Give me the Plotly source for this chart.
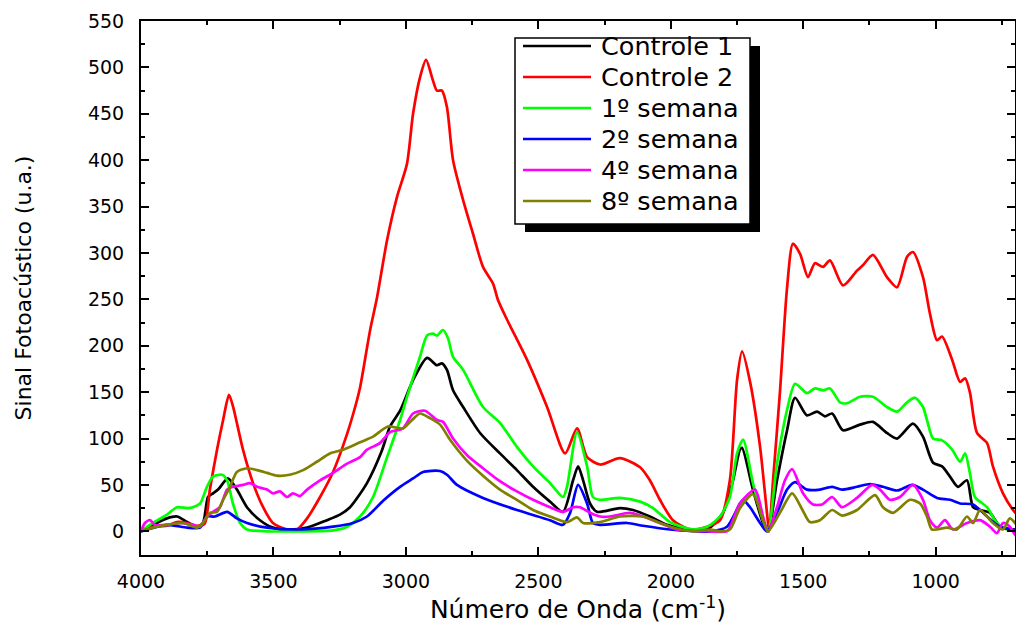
import plotly.graph_objects as go

# ---- data (wavenumber cm-1, signal u.a.) ----
c1_x = [4000, 3955, 3902, 3864, 3826, 3789, 3766, 3747, 3728, 3709, 3672, 3638, 3600, 3551, 3502, 3449, 3373, 3298, 3249, 3211, 3147, 3092, 3060, 3022, 2973, 2920, 2883, 2864, 2845, 2822, 2784, 2720, 2645, 2581, 2520, 2456, 2407, 2369, 2350, 2331, 2305, 2279, 2192, 2143, 2079, 2014, 1939, 1863, 1803, 1765, 1739, 1731, 1690, 1652, 1633, 1599, 1561, 1531, 1486, 1448, 1418, 1391, 1350, 1286, 1237, 1184, 1146, 1086, 1048, 1010, 976, 946, 916, 882, 859, 833, 795, 757, 708, 665]
c1_y = [0, 7, 14, 16, 10, 5, 9, 37, 41, 45, 57, 45, 26, 12, 4, 2, 4, 12, 18, 26, 52, 86, 113, 130, 163, 187, 179, 181, 174, 152, 134, 106, 84, 66, 48, 32, 21, 55, 70, 55, 30, 21, 25, 23, 16, 7, 2, 2, 20, 55, 88, 90, 45, 9, 0, 55, 109, 144, 125, 129, 124, 127, 109, 115, 118, 106, 100, 116, 102, 74, 70, 59, 48, 55, 26, 23, 20, 5, 2, 2]

c2_x = [4000, 3955, 3902, 3864, 3826, 3789, 3760, 3740, 3713, 3690, 3668, 3653, 3615, 3577, 3539, 3502, 3449, 3411, 3373, 3324, 3275, 3222, 3185, 3173, 3135, 3109, 3071, 3034, 2996, 2973, 2947, 2924, 2898, 2883, 2864, 2845, 2822, 2784, 2747, 2709, 2671, 2652, 2618, 2543, 2467, 2399, 2354, 2316, 2267, 2192, 2116, 2079, 2041, 1992, 1927, 1863, 1814, 1777, 1750, 1731, 1700, 1663, 1637, 1629, 1614, 1588, 1561, 1539, 1512, 1482, 1456, 1425, 1399, 1350, 1297, 1274, 1237, 1184, 1146, 1108, 1086, 1048, 1022, 995, 976, 938, 908, 889, 871, 844, 806, 784, 746, 708, 682, 665]
c2_y = [0, 5, 6, 10, 9, 6, 8, 45, 88, 120, 147, 135, 88, 52, 26, 9, 2, 2, 14, 37, 64, 105, 141, 155, 217, 252, 314, 360, 396, 450, 489, 508, 486, 475, 475, 457, 400, 357, 321, 285, 267, 249, 228, 185, 134, 84, 111, 80, 72, 79, 69, 55, 34, 12, 2, 5, 12, 55, 163, 194, 160, 91, 20, 0, 55, 150, 263, 310, 299, 274, 289, 285, 292, 265, 281, 287, 298, 274, 263, 296, 301, 274, 235, 206, 210, 185, 161, 165, 150, 106, 95, 70, 41, 23, 15, 11]

s1_x = [4000, 3955, 3902, 3864, 3826, 3804, 3777, 3751, 3728, 3694, 3675, 3653, 3626, 3600, 3524, 3400, 3275, 3222, 3173, 3124, 3071, 3022, 2996, 2947, 2920, 2898, 2883, 2860, 2841, 2822, 2784, 2709, 2645, 2581, 2520, 2456, 2407, 2392, 2354, 2316, 2294, 2267, 2192, 2116, 2067, 2003, 1916, 1863, 1814, 1777, 1750, 1727, 1690, 1652, 1633, 1599, 1561, 1531, 1486, 1456, 1425, 1399, 1361, 1335, 1286, 1237, 1184, 1146, 1108, 1078, 1048, 1033, 1010, 976, 938, 908, 889, 871, 852, 806, 769, 731, 665]
s1_y = [0, 9, 18, 26, 25, 26, 30, 48, 59, 61, 55, 30, 9, 2, 0, 0, 1, 5, 16, 37, 80, 120, 145, 188, 211, 213, 211, 217, 208, 188, 174, 134, 117, 91, 70, 52, 37, 48, 107, 70, 37, 34, 36, 32, 25, 10, 2, 5, 16, 37, 84, 99, 52, 12, 0, 73, 131, 159, 149, 154, 152, 154, 139, 138, 145, 145, 134, 129, 139, 144, 134, 120, 100, 98, 88, 75, 84, 63, 37, 26, 9, 2, 0]

s2_x = [4000, 3902, 3826, 3777, 3751, 3721, 3675, 3638, 3600, 3524, 3400, 3275, 3200, 3147, 3086, 3022, 2973, 2935, 2871, 2845, 2807, 2709, 2581, 2456, 2407, 2380, 2350, 2316, 2294, 2267, 2165, 2105, 2003, 1852, 1788, 1739, 1727, 1701, 1663, 1637, 1599, 1561, 1531, 1486, 1437, 1391, 1354, 1297, 1248, 1199, 1146, 1089, 1048, 995, 946, 908, 859, 806, 757, 665]
s2_y = [0, 7, 4, 4, 16, 16, 21, 14, 9, 4, 2, 5, 9, 16, 33, 48, 57, 64, 65, 61, 50, 36, 23, 12, 7, 20, 50, 30, 9, 7, 9, 6, 2, 0, 5, 30, 34, 26, 9, 0, 20, 45, 53, 45, 45, 48, 45, 48, 51, 48, 44, 50, 45, 36, 34, 30, 29, 16, 5, 0]

s4_x = [4000, 3985, 3966, 3947, 3902, 3853, 3804, 3777, 3751, 3728, 3702, 3675, 3653, 3615, 3589, 3562, 3524, 3502, 3475, 3449, 3426, 3400, 3373, 3324, 3275, 3222, 3173, 3147, 3098, 3060, 3011, 2973, 2928, 2883, 2860, 2822, 2769, 2709, 2645, 2581, 2520, 2456, 2407, 2369, 2343, 2305, 2267, 2230, 2154, 2105, 2041, 1977, 1852, 1788, 1777, 1739, 1682, 1652, 1633, 1599, 1569, 1542, 1501, 1463, 1429, 1391, 1354, 1297, 1240, 1210, 1173, 1135, 1086, 1048, 1022, 995, 965, 935, 882, 833, 795, 769, 746, 720, 693, 665]
s4_y = [0, 9, 12, 7, 7, 9, 7, 5, 16, 21, 26, 45, 48, 50, 52, 48, 45, 41, 43, 37, 41, 38, 45, 55, 63, 73, 80, 88, 95, 107, 111, 127, 130, 120, 118, 100, 82, 68, 54, 43, 34, 26, 21, 26, 26, 20, 16, 16, 20, 16, 9, 2, 0, 0, 4, 30, 45, 16, 0, 26, 55, 67, 41, 29, 29, 37, 26, 36, 50, 45, 34, 37, 50, 34, 12, 4, 12, 2, 9, 12, 5, -2, 9, 5, -6, 22]

s8_x = [4000, 3955, 3902, 3841, 3789, 3766, 3740, 3713, 3690, 3664, 3638, 3600, 3562, 3524, 3487, 3438, 3388, 3336, 3287, 3237, 3173, 3124, 3068, 3011, 2977, 2947, 2909, 2871, 2834, 2769, 2709, 2645, 2581, 2520, 2456, 2392, 2354, 2331, 2267, 2192, 2105, 2041, 1977, 1916, 1852, 1814, 1777, 1739, 1690, 1652, 1633, 1588, 1542, 1501, 1475, 1437, 1391, 1354, 1297, 1229, 1199, 1161, 1097, 1059, 1033, 1014, 957, 920, 882, 859, 833, 806, 784, 746, 720, 682, 665]
s8_y = [0, 4, 7, 9, 4, 9, 20, 21, 34, 48, 64, 68, 66, 63, 60, 61, 66, 75, 84, 88, 96, 102, 113, 111, 120, 127, 122, 115, 99, 76, 60, 45, 34, 23, 16, 10, 15, 9, 10, 16, 16, 9, 3, 0, 2, 0, 2, 25, 40, 12, 0, 20, 41, 22, 10, 12, 23, 17, 23, 39, 26, 20, 34, 30, 16, 2, 4, 2, 16, 9, 23, 16, 9, 2, 14, 4, 6]

series_names = ["Controle 1", "Controle 2", "1º semana", "2º semana", "4º semana", "8º semana"]
series_x = [c1_x, c2_x, s1_x, s2_x, s4_x, s8_x]
series_y = [c1_y, c2_y, s1_y, s2_y, s4_y, s8_y]
series_colors = ["#000000", "#FF0000", "#00FF00", "#0000FF", "#FF00FF", "#808000"]

x_ticks = [4000, 3500, 3000, 2500, 2000, 1500, 1000]
y_ticks = list(range(0, 551, 50))

FONT = "DejaVu Sans, Arial, sans-serif"

# page body adds an 8px offset; target plot area in screen pixels
OFF = 8
FIG_W, FIG_H = 1008, 620
L, R, T, B = 141, 1015, 21, 555
W, H = R - L, B - T
X_RIGHT = 4000 - (R - L) / 0.2649  # keep 1000 cm-1 at the same place


def px(xp):
    return (xp - L) / W


def py(yp):
    return (B - yp) / H


fig = go.Figure()
for name, xs, ys, col in zip(series_names, series_x, series_y, series_colors):
    fig.add_trace(go.Scatter(x=xs, y=ys, mode="lines", name=name, showlegend=False,
                             line=dict(color=col, width=2.7, shape="spline", smoothing=0.7)))

axis_common = dict(showline=True, linecolor="black", linewidth=2, mirror="allticks",
                   ticks="inside", ticklen=8, tickwidth=2, tickcolor="black",
                   showgrid=False, zeroline=False, automargin=False,
                   tickfont=dict(family=FONT, size=19, color="black"))

fig.update_xaxes(range=[4000, X_RIGHT], tickvals=x_ticks,
                 minor=dict(ticks="inside", ticklen=4, tickwidth=2, dtick=250, tick0=0, showgrid=False),
                 title=dict(text="Número de Onda (cm<sup>-1</sup>)", font=dict(family=FONT, size=25, color="black"), standoff=9),
                 ticklabelstandoff=8,
                 **axis_common)
fig.update_yaxes(range=[-25.5, 550], tickvals=y_ticks,
                 minor=dict(ticks="inside", ticklen=4, tickwidth=2, dtick=25, tick0=0, showgrid=False),
                 title=dict(text="Sinal Fotoacústico (u.a.)", font=dict(family=FONT, size=22, color="black"), standoff=50),
                 ticklabelstandoff=11,
                 **axis_common)

# ---- legend drawn by hand: shadow, box, line samples, labels ----
fig.add_shape(type="rect", xref="paper", yref="paper",
              x0=px(525), x1=px(760), y0=py(232), y1=py(46),
              fillcolor="black", line=dict(width=0), layer="above")
fig.add_shape(type="rect", xref="paper", yref="paper",
              x0=px(515), x1=px(750), y0=py(224), y1=py(38),
              fillcolor="white", line=dict(color="black", width=1.5), layer="above")
row_y0, row_dy = 46, 31
for i, (name, col) in enumerate(zip(series_names, series_colors)):
    yy = row_y0 + i * row_dy
    fig.add_shape(type="line", xref="paper", yref="paper",
                  x0=px(523), x1=px(591), y0=py(yy), y1=py(yy),
                  line=dict(color=col, width=2.7), layer="above")
    fig.add_annotation(text=name, xref="paper", yref="paper", x=px(599), y=py(yy),
                       xanchor="left", yanchor="middle", showarrow=False,
                       font=dict(family=FONT, size=25.5, color="black"))

fig.update_layout(
    width=FIG_W, height=FIG_H,
    margin=dict(l=L - OFF, r=FIG_W - (R - OFF), t=T - OFF, b=FIG_H - (B - OFF)),
    paper_bgcolor="white", plot_bgcolor="white",
    font=dict(family=FONT, color="black"),
    showlegend=False,
)

fig.write_html("out.html")
